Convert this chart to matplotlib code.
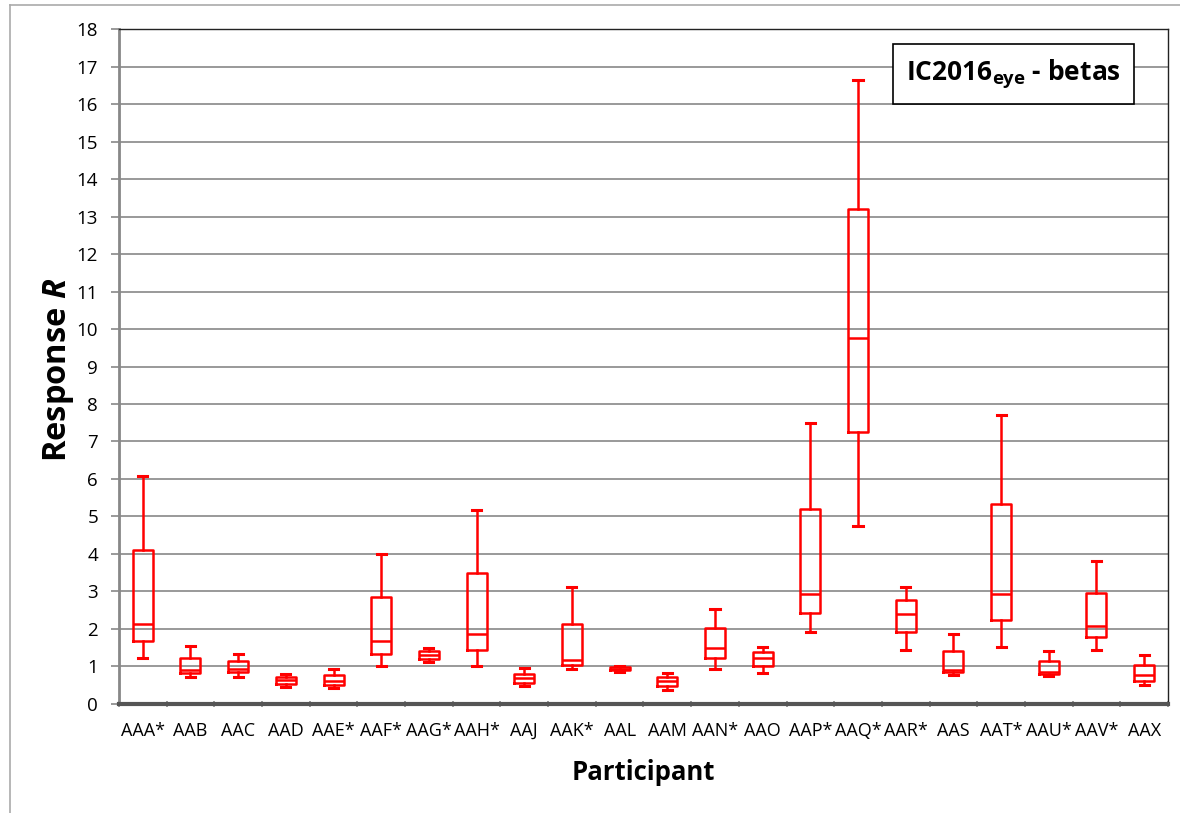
import matplotlib
matplotlib.use('Agg')
import matplotlib.pyplot as plt
from matplotlib.lines import Line2D

plt.rcParams['font.family'] = ['Open Sans', 'DejaVu Sans']
plt.rcParams['mathtext.fontset'] = 'custom'
plt.rcParams['mathtext.rm'] = 'Open Sans'
plt.rcParams['mathtext.bf'] = 'Open Sans:bold'
plt.rcParams['mathtext.it'] = 'Open Sans:bold:italic'

participants = ['AAA*', 'AAB', 'AAC', 'AAD', 'AAE*', 'AAF*', 'AAG*', 'AAH*',
                'AAJ', 'AAK*', 'AAL', 'AAM', 'AAN*', 'AAO', 'AAP*', 'AAQ*',
                'AAR*', 'AAS', 'AAT*', 'AAU*', 'AAV*', 'AAX']
whisker_low = [1.23, 0.73, 0.71, 0.44, 0.43, 1.02, 1.11, 1.02, 0.48, 0.93, 0.86,
               0.36, 0.94, 0.82, 1.92, 4.75, 1.44, 0.76, 1.53, 0.74, 1.43, 0.51]
q1 = [1.67, 0.82, 0.84, 0.54, 0.51, 1.34, 1.21, 1.43, 0.57, 1.05, 0.90,
      0.47, 1.22, 1.01, 2.43, 7.25, 1.92, 0.84, 2.24, 0.79, 1.78, 0.62]
median = [2.12, 0.91, 0.92, 0.63, 0.62, 1.67, 1.31, 1.86, 0.68, 1.16, 0.94,
          0.60, 1.49, 1.22, 2.93, 9.77, 2.41, 0.91, 2.93, 0.86, 2.09, 0.77]
q3 = [4.10, 1.23, 1.15, 0.71, 0.77, 2.84, 1.41, 3.50, 0.81, 2.13, 0.99,
      0.72, 2.02, 1.39, 5.21, 13.20, 2.77, 1.40, 5.32, 1.14, 2.95, 1.03]
whisker_high = [6.08, 1.54, 1.32, 0.79, 0.93, 4.01, 1.48, 5.17, 0.95, 3.11, 1.02,
                0.83, 2.54, 1.52, 7.48, 16.64, 3.11, 1.86, 7.71, 1.42, 3.80, 1.31]

stats = []
for i in range(len(participants)):
    stats.append({'whislo': whisker_low[i], 'q1': q1[i], 'med': median[i],
                  'q3': q3[i], 'whishi': whisker_high[i], 'fliers': []})

fig = plt.figure(figsize=(11.8, 8.13), dpi=100)
ax = fig.add_axes([0.1008, 0.1341, 0.8890, 0.8302])

red = '#ff0000'
pos = list(range(1, len(participants) + 1))
ax.bxp(stats, positions=pos, widths=0.42, capwidths=0.19, showfliers=False,
       boxprops=dict(color=red, linewidth=1.8),
       medianprops=dict(color=red, linewidth=1.8),
       whiskerprops=dict(color=red, linewidth=1.8),
       capprops=dict(color=red, linewidth=2.2))

ax.set_xlim(0.5, len(participants) + 0.5)
ax.set_ylim(0, 18)
ax.set_yticks(range(0, 19))
ax.set_xticks(pos)
ax.set_xticklabels(participants)
ax.set_xticks([p + 0.5 for p in range(len(participants) + 1)], minor=True)
ax.tick_params(axis='x', which='major', length=0, labelsize=13, pad=13)
ax.tick_params(axis='x', which='minor', length=5, width=1.2, color='#888888', direction='inout')
ax.tick_params(axis='y', length=6, width=1.2, color='#888888', labelsize=13.5, pad=9)

ax.yaxis.grid(True, color='#999999', linewidth=1.4)
ax.set_axisbelow(True)

ax.spines['left'].set_color('#888888')
ax.spines['left'].set_linewidth(2)
ax.spines['bottom'].set_color('#555555')
ax.spines['bottom'].set_linewidth(3)
ax.spines['top'].set_color('#222222')
ax.spines['top'].set_linewidth(1)
ax.spines['right'].set_color('#222222')
ax.spines['right'].set_linewidth(1)

ax.set_ylabel('Response $R$', fontsize=23.5, fontweight='bold')
ax.yaxis.set_label_coords(-0.041, 0.495)
ax.set_xlabel('Participant', fontsize=18.5, fontweight='bold', labelpad=14)

ax.text(0.853, 0.933, r'IC2016$_{\mathbf{eye}}$ - betas', transform=ax.transAxes,
        fontsize=19, fontweight='bold', ha='center', va='center', zorder=5,
        bbox=dict(boxstyle='square,pad=0.5', facecolor='white', edgecolor='black', linewidth=1.2))

# outer chart frame (left and top edges visible)
fig.add_artist(Line2D([10 / 1180, 10 / 1180], [0, 1 - 5 / 813], transform=fig.transFigure,
                      color='#aaaaaa', linewidth=1.2))
fig.add_artist(Line2D([10 / 1180, 1], [1 - 5 / 813, 1 - 5 / 813], transform=fig.transFigure,
                      color='#aaaaaa', linewidth=1.2))

fig.savefig('out.png', dpi=100)
